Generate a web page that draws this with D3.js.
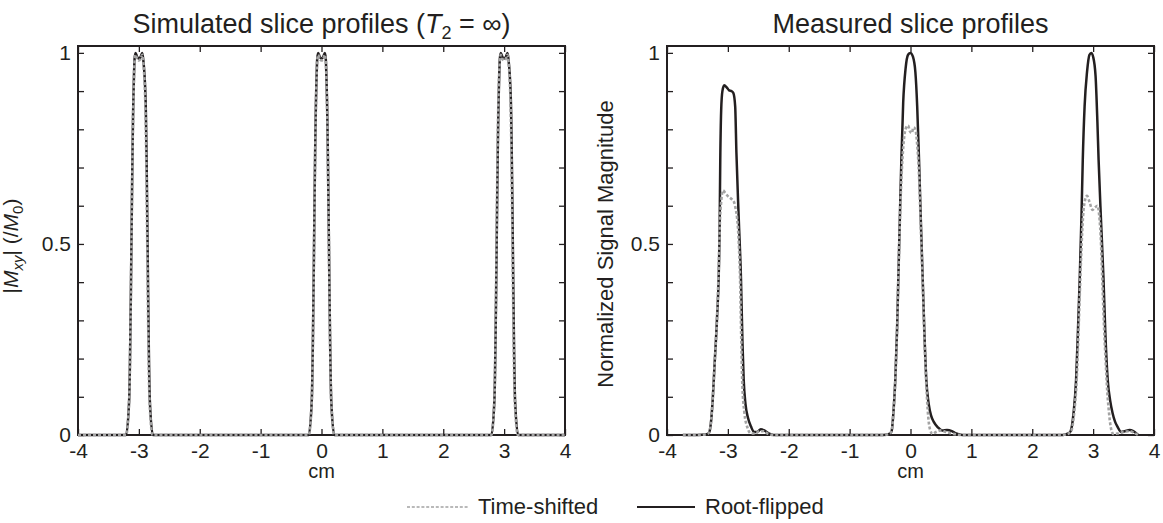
<!DOCTYPE html>
<html><head><meta charset="utf-8">
<script src="https://cdn.jsdelivr.net/npm/d3@7"></script>
<style>
html,body{margin:0;padding:0;background:#fff;}
svg{display:block;font-family:"Liberation Sans",Arial,Helvetica,sans-serif;}
</style></head>
<body>
<svg id="chart" width="1163" height="523"></svg>
<script>
// ---------------- data ----------------
const xTicks = [-4,-3,-2,-1,0,1,2,3,4];
const yTicks = [0,0.1,0.2,0.3,0.4,0.5,0.6,0.7,0.8,0.9,1.0];
const yTickLabels = {0:"0",0.5:"0.5",1:"1"};
const seriesNames = ["Time-shifted","Root-flipped"];

// Simulated (T2 = inf) – root-flipped
const simRoot = [
 [-4,0],[-3.21,0],[-3.16,0.09],[-3.09,0.88],[-3.07,0.985],[-3.055,1.0],[-3.03,0.99],[-3.0,0.985],[-2.97,0.99],[-2.945,1.0],[-2.93,0.985],[-2.89,0.88],[-2.82,0.09],[-2.77,0],
 [-0.21,0],[-0.16,0.09],[-0.09,0.88],[-0.07,0.985],[-0.055,1.0],[-0.03,0.99],[0.0,0.985],[0.03,0.99],[0.055,1.0],[0.07,0.985],[0.09,0.88],[0.16,0.09],[0.21,0],
 [2.79,0],[2.84,0.09],[2.91,0.88],[2.93,0.985],[2.945,1.0],[2.97,0.99],[3.0,0.985],[3.03,0.99],[3.055,1.0],[3.07,0.985],[3.11,0.88],[3.18,0.09],[3.23,0],[4,0]
];
// Simulated – time-shifted
const simTime = [
 [-4,0],[-3.21,0],[-3.16,0.09],[-3.09,0.87],[-3.07,0.98],[-3.055,0.995],[-3.03,0.985],[-3.0,0.98],[-2.97,0.985],[-2.945,0.995],[-2.93,0.98],[-2.895,0.87],[-2.825,0.09],[-2.775,0],
 [-0.21,0],[-0.16,0.09],[-0.09,0.87],[-0.07,0.98],[-0.055,0.995],[-0.03,0.985],[0.0,0.98],[0.03,0.985],[0.055,0.995],[0.07,0.98],[0.09,0.87],[0.16,0.09],[0.21,0],
 [2.79,0],[2.84,0.09],[2.905,0.87],[2.93,0.98],[2.945,0.995],[2.97,0.985],[3.0,0.98],[3.03,0.985],[3.055,0.995],[3.07,0.98],[3.105,0.87],[3.175,0.09],[3.225,0],[4,0]
];
// Measured – root-flipped
const measRoot = [
 [-3.74,0],[-3.5,0],[-3.35,0.002],[-3.31,0.006],[-3.28,0.03],[-3.25,0.09],[-3.22,0.18],[-3.18,0.3],[-3.15,0.42],[-3.135,0.55],[-3.125,0.72],[-3.11,0.85],[-3.09,0.9],[-3.06,0.915],[-3.02,0.91],[-2.98,0.902],[-2.94,0.9],[-2.91,0.895],[-2.88,0.86],[-2.86,0.74],[-2.82,0.56],[-2.785,0.41],[-2.76,0.24],[-2.74,0.144],[-2.71,0.08],[-2.67,0.045],[-2.62,0.022],[-2.57,0.008],[-2.52,0.008],[-2.46,0.015],[-2.4,0.012],[-2.33,0.004],[-2.25,0],
 [-0.45,0],[-0.35,0.003],[-0.31,0.01],[-0.28,0.06],[-0.25,0.144],[-0.22,0.28],[-0.2,0.41],[-0.17,0.6],[-0.15,0.72],[-0.12,0.87],[-0.08,0.96],[-0.04,0.995],[0,1.0],[0.04,0.99],[0.08,0.95],[0.11,0.86],[0.14,0.72],[0.17,0.56],[0.2,0.41],[0.23,0.26],[0.26,0.144],[0.3,0.08],[0.34,0.05],[0.38,0.035],[0.45,0.02],[0.52,0.012],[0.6,0.013],[0.68,0.01],[0.75,0.004],[0.85,0],
 [2.5,0],[2.6,0.005],[2.63,0.01],[2.68,0.06],[2.72,0.144],[2.75,0.27],[2.78,0.41],[2.81,0.58],[2.83,0.72],[2.86,0.86],[2.9,0.95],[2.94,0.995],[2.97,1.0],[3.0,0.99],[3.04,0.94],[3.07,0.82],[3.09,0.72],[3.13,0.56],[3.17,0.41],[3.2,0.27],[3.24,0.144],[3.28,0.09],[3.32,0.057],[3.36,0.035],[3.4,0.022],[3.46,0.008],[3.52,0.01],[3.6,0.013],[3.66,0.01],[3.72,0.003],[3.74,0]
];
// Measured – time-shifted
const measTime = [
 [-3.74,0],[-3.5,0],[-3.35,0.002],[-3.31,0.006],[-3.28,0.03],[-3.25,0.09],[-3.22,0.18],[-3.18,0.3],[-3.15,0.44],[-3.13,0.56],[-3.11,0.61],[-3.08,0.64],[-3.05,0.635],[-3.0,0.625],[-2.96,0.62],[-2.9,0.61],[-2.87,0.59],[-2.85,0.57],[-2.82,0.5],[-2.8,0.41],[-2.78,0.25],[-2.765,0.144],[-2.73,0.06],[-2.68,0.02],[-2.62,0.004],[-2.55,0.004],[-2.48,0.01],[-2.42,0.01],[-2.35,0.004],[-2.25,0],
 [-0.45,0],[-0.35,0.003],[-0.31,0.01],[-0.28,0.06],[-0.25,0.14],[-0.22,0.28],[-0.2,0.41],[-0.17,0.58],[-0.14,0.7],[-0.11,0.77],[-0.07,0.805],[-0.04,0.81],[-0.01,0.795],[0.02,0.79],[0.05,0.805],[0.08,0.8],[0.11,0.76],[0.14,0.68],[0.17,0.54],[0.2,0.4],[0.23,0.25],[0.26,0.13],[0.29,0.05],[0.32,0.015],[0.36,0.003],[0.42,0.008],[0.5,0.012],[0.58,0.008],[0.7,0.003],[0.85,0],
 [2.5,0],[2.6,0.004],[2.64,0.01],[2.69,0.06],[2.73,0.144],[2.76,0.27],[2.79,0.41],[2.82,0.53],[2.85,0.6],[2.9,0.626],[2.94,0.61],[2.99,0.589],[3.03,0.595],[3.07,0.6],[3.1,0.575],[3.13,0.5],[3.15,0.41],[3.18,0.28],[3.21,0.18],[3.23,0.12],[3.26,0.06],[3.29,0.02],[3.33,0.003],[3.4,0.004],[3.5,0.008],[3.6,0.01],[3.68,0.005],[3.74,0]
];

// ---------------- drawing ----------------
const svg = d3.select("#chart");
const INK = "#231f20", GRAY = "#a3a3a3";
const plotTop = 46, plotBottom = 435;
const y = d3.scaleLinear().domain([0, 1.018]).range([plotBottom, plotTop]);

const panels = [
  {left:78, right:565, time:simTime, root:simRoot},
  {left:667, right:1154, time:measTime, root:measRoot}
];

panels.forEach(p => {
  const x = d3.scaleLinear().domain([-4,4]).range([p.left, p.right]);
  const g = svg.append("g");
  g.append("rect").attr("x",p.left).attr("y",plotTop).attr("width",p.right-p.left).attr("height",plotBottom-plotTop)
    .attr("fill","none").attr("stroke",INK).attr("stroke-width",2);
  const styleAx = sel => { sel.select(".domain").remove(); sel.selectAll("line").attr("stroke",INK).attr("stroke-width",1.3); sel.selectAll("text").attr("fill",INK).style("font-size","21px").style("font-family","'Liberation Sans',Arial,sans-serif"); };
  g.append("g").attr("transform",`translate(0,${plotBottom})`)
    .call(d3.axisBottom(x).tickValues(xTicks).tickSize(-6).tickPadding(8).tickFormat(d=>d<0?"-"+Math.abs(d):String(d)))
    .call(styleAx);
  g.append("g").attr("transform",`translate(0,${plotTop})`)
    .call(d3.axisTop(x).tickValues(xTicks).tickSize(-6).tickFormat(""))
    .call(styleAx);
  g.append("g").attr("transform",`translate(${p.left},0)`)
    .call(d3.axisLeft(y).tickValues(yTicks).tickSize(-6).tickPadding(7).tickFormat(d=>{const k=Math.round(d*10)/10; return yTickLabels[k]!==undefined?yTickLabels[k]:"";}))
    .call(styleAx);
  g.append("g").attr("transform",`translate(${p.right},0)`)
    .call(d3.axisRight(y).tickValues(yTicks).tickSize(-6).tickFormat(""))
    .call(styleAx);

  const line = d3.line().x(d=>x(d[0])).y(d=>y(d[1])).curve(d3.curveMonotoneX);
  g.append("path").datum(p.root).attr("d",line).attr("fill","none").attr("stroke",INK).attr("stroke-width",2.5).attr("stroke-linejoin","round");
  g.append("path").datum(p.time).attr("d",line).attr("fill","none").attr("stroke",GRAY).attr("stroke-width",2.6).attr("stroke-dasharray","3,2");

  g.append("text").attr("x",(p.left+p.right)/2).attr("y",478).attr("text-anchor","middle")
    .attr("fill",INK).style("font-size","20px").text("cm");
});

const t1 = svg.append("text").attr("x",(78+565)/2).attr("y",33).attr("text-anchor","middle").attr("fill",INK).style("font-size","27px");
t1.append("tspan").text("Simulated slice profiles (");
t1.append("tspan").style("font-style","italic").text("T");
t1.append("tspan").attr("dy",6).style("font-size","18px").text("2");
t1.append("tspan").attr("dy",-6).text(" = ∞)");
svg.append("text").attr("x",(667+1154)/2).attr("y",33).attr("text-anchor","middle").attr("fill",INK).style("font-size","27px").text("Measured slice profiles");

const yl1 = svg.append("text").attr("transform","translate(18,246) rotate(-90)").attr("text-anchor","middle").attr("fill",INK).style("font-size","21px");
yl1.append("tspan").text("|");
yl1.append("tspan").style("font-style","italic").text("M");
yl1.append("tspan").attr("dy",5).style("font-style","italic").style("font-size","15px").text("xy");
yl1.append("tspan").attr("dy",-5).text("| (/");
yl1.append("tspan").style("font-style","italic").text("M");
yl1.append("tspan").attr("dy",5).style("font-size","15px").text("0");
yl1.append("tspan").attr("dy",-5).text(")");
svg.append("text").attr("transform","translate(613,244) rotate(-90)").attr("text-anchor","middle").attr("fill",INK).style("font-size","22px").text("Normalized Signal Magnitude");

const lg = svg.append("g");
lg.append("line").attr("x1",407).attr("x2",468).attr("y1",507).attr("y2",507).attr("stroke",GRAY).attr("stroke-width",1.6).attr("stroke-dasharray","3,1.8");
lg.append("text").attr("x",478).attr("y",514).attr("fill",INK).style("font-size","22px").text(seriesNames[0]);
lg.append("line").attr("x1",637).attr("x2",695).attr("y1",507).attr("y2",507).attr("stroke",INK).attr("stroke-width",2);
lg.append("text").attr("x",705).attr("y",514).attr("fill",INK).style("font-size","22px").text(seriesNames[1]);
</script>
</body></html>
